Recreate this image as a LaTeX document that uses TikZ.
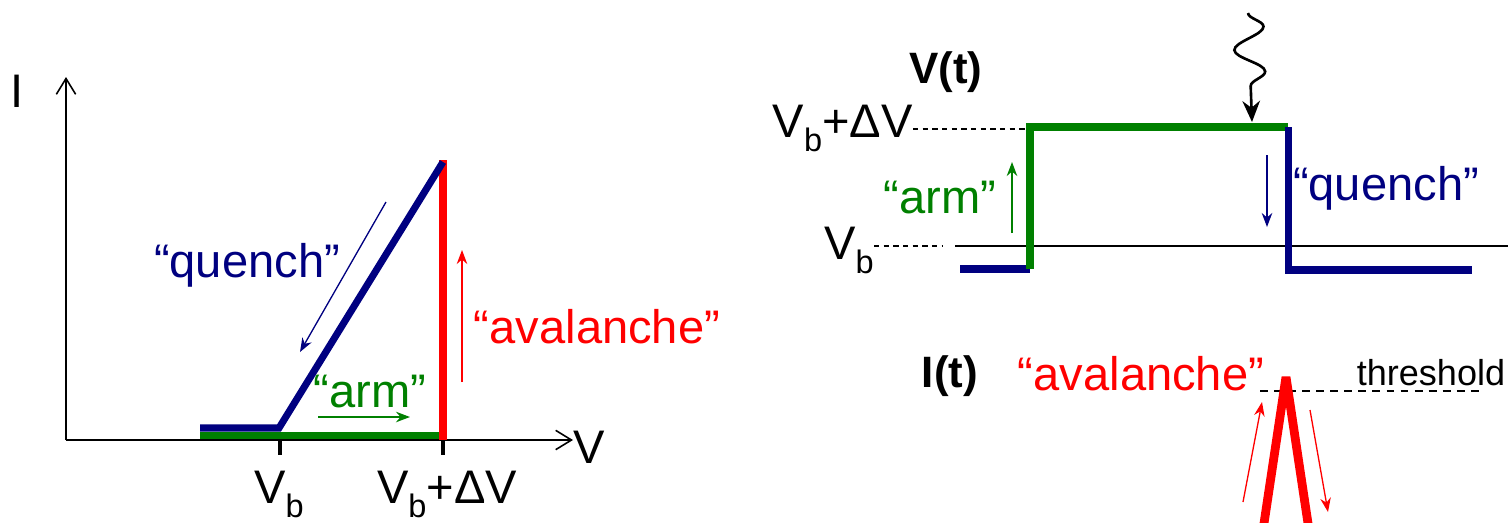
\documentclass[tikz,border=0pt]{standalone}
\usepackage{fontspec}
\setmainfont{Liberation Sans}
\usetikzlibrary{arrows.meta,decorations.pathmorphing}
\definecolor{qblue}{RGB}{0,0,128}
\definecolor{agreen}{RGB}{0,128,0}
\definecolor{ared}{RGB}{255,0,0}
\newcommand\Vb{V\raisebox{-8pt}{\fontsize{18.5}{18.5}\selectfont b}}

\begin{document}
\begin{tikzpicture}[x=0.02cm,y=-0.02cm,>=Stealth,
  lbl/.style={inner sep=0pt,font=\fontsize{26.8}{30}\selectfont},
  ttl/.style={inner sep=0pt,font=\fontsize{25}{30}\selectfont\bfseries},
  axis/.style={line width=.9pt,-{Straight Barb[length=9pt,width=11pt]}},
  curve/.style={line width=4pt},
  hint/.style={line width=.75pt,-{Stealth[length=8pt,width=6pt]}},
  guide/.style={line width=.6pt,dash pattern=on 3pt off 2.5pt}]
\useasboundingbox (0,0) rectangle (1508,522);
% I-V plane
\coordinate (O) at (66,440);
\coordinate (Itip) at (66,77);
\coordinate (Vtip) at (573,440);
\node[lbl,anchor=base] (Ilab) at (17,107) {I};
\node[lbl,anchor=base] (Vlab) at (589,463) {V};
\draw[axis] (O) -- (Itip);
\draw[axis] (O) -- (Vtip);
\foreach \x in {280,443}
  \draw[line width=1.8pt] (\x,440) -- (\x,455);
\node[lbl,anchor=base] (tVb) at (279,503) {\Vb};
\node[lbl,anchor=base] (tVdV) at (447,503) {\Vb+ΔV};
\coordinate (off) at (200,428);
\coordinate (knee) at (279,428);
\coordinate (peak) at (443,162);
\coordinate (g0) at (200,435.5);
\coordinate (g1) at (443,435.5);
\coordinate (r0) at (443,440);
\coordinate (r1) at (443,160);
\draw[curve,agreen] (g0) -- (g1);
\draw[curve,ared] (r0) -- (r1);
\draw[curve,qblue] (off) -- (knee) -- (peak);
\node[lbl,qblue,anchor=base] (quenchL) at (247,277) {“quench”};
\node[lbl,agreen,anchor=base] (armL) at (370,407) {“arm”};
\node[lbl,ared,anchor=base] (avalL) at (597,343) {“avalanche”};
\draw[hint,qblue] (386,202) coordinate (qa) -- (300,352) coordinate (qb);
\draw[hint,agreen] (318,417) coordinate (aa) -- (410,417) coordinate (ab);
\draw[hint,ared] (462,382) coordinate (va) -- (462,250) coordinate (vb);
% V(t) and I(t)
\node[ttl,anchor=base] (Vt) at (946,83) {V(t)};
\node[ttl,anchor=base] (It) at (950,387) {I(t)};
\node[lbl,anchor=base east] (lVdV) at (913,137) {\Vb+ΔV};
\node[lbl,anchor=base east] (lVb) at (874,259) {\Vb};
\draw[guide] (lVdV.east |- 0,129) -- (1027,129);
\draw[guide] (lVb.east |- 0,246) -- (942,246);
\draw[line width=.9pt] (955,246) -- (1508,246);
\coordinate (lo0) at (960,269);
\coordinate (up) at (1030,269);
\coordinate (hi0) at (1030,127);
\coordinate (hi1) at (1288,127);
\coordinate (dn) at (1288,270);
\coordinate (lo1) at (1472,270);
\draw[curve,qblue] (lo0) -- (up);
\draw[curve,agreen] (up) -- (hi0) -- (hi1);
\draw[curve,qblue] (hi1) -- (dn) -- (lo1);
\node[lbl,agreen,anchor=base] (armR) at (940,213) {“arm”};
\node[lbl,qblue,anchor=base] (quenchR) at (1386,200) {“quench”};
\draw[hint,agreen] (1012,233) -- (1012,162);
\draw[hint,qblue] (1267,155) -- (1267,227);
\coordinate (photon) at (1248,13);
\coordinate (hit) at (1252,122);
\draw[line width=1.5pt,-{Stealth[length=12pt,width=10pt]},decorate,
  decoration={snake,amplitude=.3cm,segment length=.9cm,post length=.32cm}]
  (photon) -- (hit);
\node[lbl,ared,anchor=base] (avalR) at (1141,390) {“avalanche”};
\node[inner sep=0pt,font=\fontsize{20.5}{24}\selectfont,anchor=base] (thr) at (1431,385) {threshold};
\draw[line width=1.1pt,dash pattern=on 4.5pt off 3.5pt] (1260,391) -- (1483,391);
\coordinate (s0) at (1263,530);
\coordinate (spk) at (1286,377);
\coordinate (s1) at (1309,530);
\draw[ared,line width=5pt,line join=bevel] (s0) -- (spk) -- (s1);
\draw[hint,ared] (1243,502) -- (1262,402);
\draw[hint,ared] (1310,410) -- (1328,512);
\end{tikzpicture}
\end{document}
